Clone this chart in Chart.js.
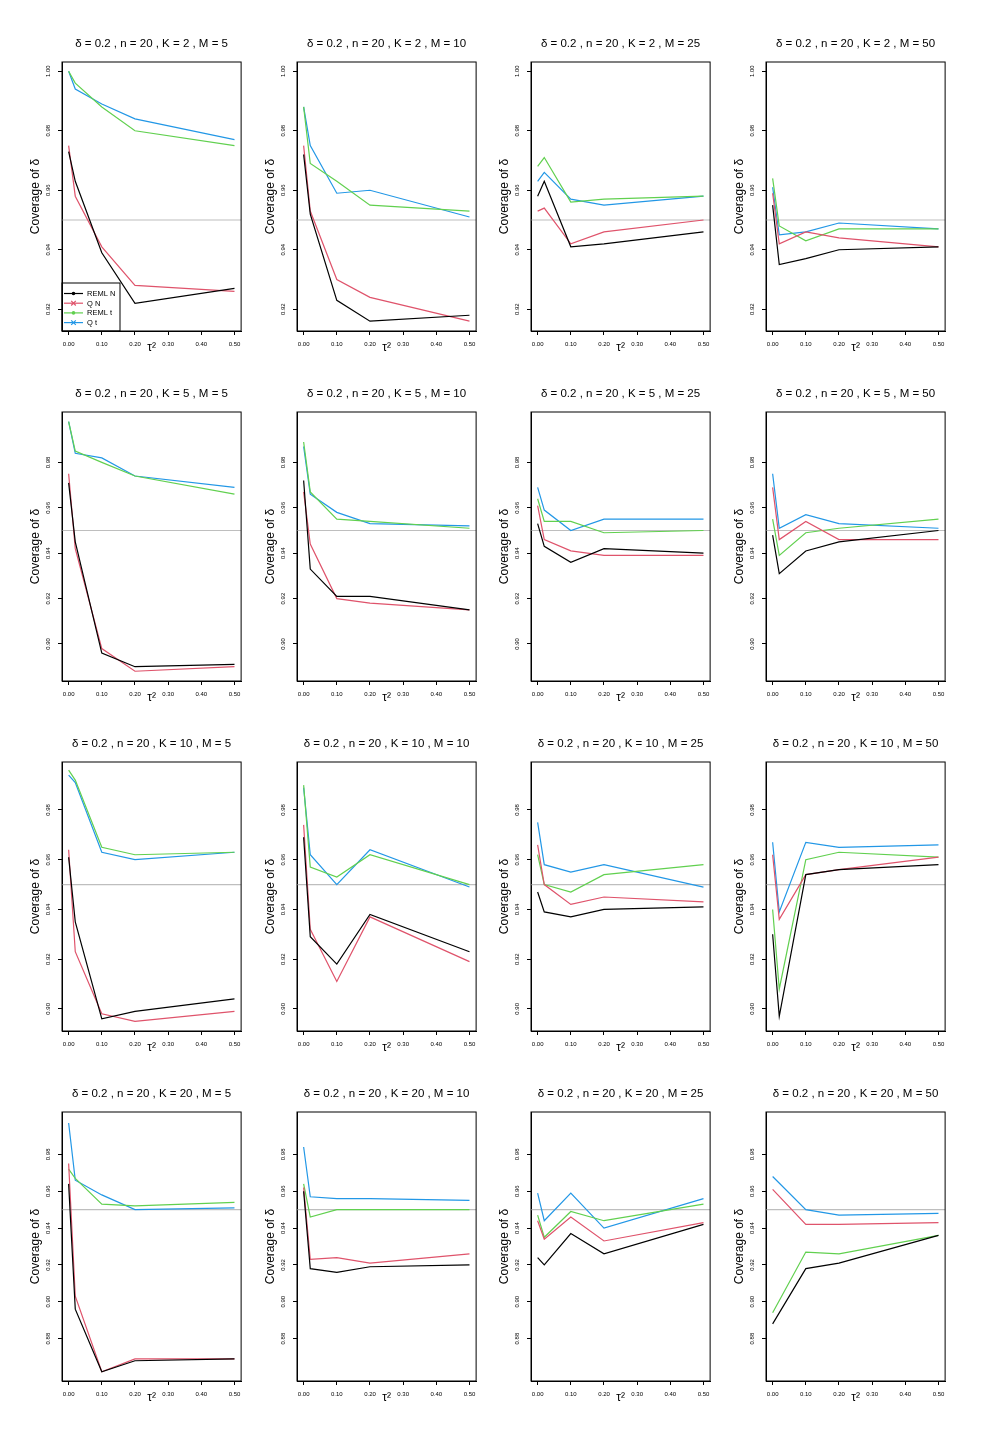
<!DOCTYPE html>
<html>
<head>
<meta charset="utf-8">
<script src="https://cdn.jsdelivr.net/npm/chart.js@4.4.0/dist/chart.umd.min.js"></script>
<style>
  body { margin: 0; background: #fff; }
  #page { position: relative; width: 990px; height: 1452px; overflow: hidden; background: #fff; }
  #page canvas { position: absolute; }
</style>
</head>
<body>
<div id="page"></div>
<script>
// simulation settings
const delta = 0.2;
const nSize = 20;
const kValues = [2, 5, 10, 20];   // one row per K
const mValues = [5, 10, 25, 50];  // one column per M
const nominal = 0.95;

// x axis: tau^2
const tau = [0, 0.02, 0.1, 0.2, 0.5];
const xTicks = [0, 0.1, 0.2, 0.3, 0.4, 0.5];

// y axis per row
const yTicks = [
  [0.92, 0.94, 0.96, 0.98, 1.00],
  [0.90, 0.92, 0.94, 0.96, 0.98],
  [0.90, 0.92, 0.94, 0.96, 0.98],
  [0.88, 0.90, 0.92, 0.94, 0.96, 0.98]
];
const yLimits = [[0.9127, 1.0031], [0.8837, 1.0022], [0.8911, 0.9993], [0.857, 1.003]];

const seriesNames = ['REML N', 'Q N', 'REML t', 'Q t'];
const seriesColors = ['#000000', '#DF536B', '#61D04F', '#2297E6'];
const seriesMarks = ['dot', 'cross', 'dot', 'cross'];

// coverage of delta, one array per panel (row = K, col = M)
const remlN = [
  [0.973, 0.963, 0.939, 0.922, 0.927], [0.972, 0.952, 0.923, 0.916, 0.918], [0.958, 0.963, 0.941, 0.942, 0.946], [0.955, 0.935, 0.937, 0.940, 0.941],
  [0.971, 0.945, 0.896, 0.890, 0.891], [0.972, 0.933, 0.921, 0.921, 0.915], [0.953, 0.943, 0.936, 0.942, 0.940], [0.948, 0.931, 0.941, 0.945, 0.950],
  [0.961, 0.935, 0.896, 0.899, 0.904], [0.969, 0.929, 0.918, 0.938, 0.923], [0.947, 0.939, 0.937, 0.940, 0.941], [0.930, 0.897, 0.954, 0.956, 0.958],
  [0.964, 0.896, 0.862, 0.868, 0.869], [0.960, 0.918, 0.916, 0.919, 0.920], [0.924, 0.920, 0.937, 0.926, 0.942], [0.888, null, 0.918, 0.921, 0.936]
];
const qN = [
  [0.975, 0.958, 0.941, 0.928, 0.926], [0.975, 0.953, 0.930, 0.924, 0.916], [0.953, 0.954, 0.942, 0.946, 0.950], [0.959, 0.942, 0.946, 0.944, 0.941],
  [0.975, 0.942, 0.898, 0.888, 0.890], [0.967, 0.944, 0.920, 0.918, 0.915], [0.961, 0.946, 0.941, 0.939, 0.939], [0.969, 0.946, 0.954, 0.946, 0.946],
  [0.964, 0.923, 0.898, 0.895, 0.899], [0.974, 0.932, 0.911, 0.937, 0.919], [0.966, 0.950, 0.942, 0.945, 0.943], [0.962, 0.936, 0.954, 0.956, 0.961],
  [0.975, 0.903, 0.862, 0.869, 0.869], [0.962, 0.923, 0.924, 0.921, 0.926], [0.944, 0.934, 0.946, 0.933, 0.943], [0.961, null, 0.942, 0.942, 0.943]
];
const remlT = [
  [1.000, 0.996, 0.988, 0.980, 0.975], [0.988, 0.969, 0.963, 0.955, 0.953], [0.968, 0.971, 0.956, 0.957, 0.958], [0.964, 0.948, 0.943, 0.947, 0.947],
  [0.998, 0.985, 0.980, 0.974, 0.966], [0.989, 0.967, 0.955, 0.954, 0.951], [0.964, 0.954, 0.954, 0.949, 0.950], [0.955, 0.939, 0.949, 0.951, 0.955],
  [0.996, 0.992, 0.965, 0.962, 0.963], [0.990, 0.957, 0.953, 0.962, 0.950], [0.962, 0.950, 0.947, 0.954, 0.958], [0.940, 0.908, 0.960, 0.963, 0.961],
  [0.972, 0.967, 0.953, 0.952, 0.954], [0.964, 0.946, 0.950, 0.950, 0.950], [0.947, 0.935, 0.949, 0.944, 0.953], [0.894, null, 0.927, 0.926, 0.936]
];
const qT = [
  [1.000, 0.994, 0.989, 0.984, 0.977], [0.988, 0.975, 0.959, 0.960, 0.951], [0.963, 0.966, 0.957, 0.955, 0.958], [0.961, 0.945, 0.946, 0.949, 0.947],
  [0.998, 0.984, 0.982, 0.974, 0.969], [0.987, 0.966, 0.958, 0.953, 0.952], [0.969, 0.959, 0.950, 0.955, 0.955], [0.975, 0.951, 0.957, 0.953, 0.951],
  [0.994, 0.991, 0.963, 0.960, 0.963], [0.989, 0.962, 0.950, 0.964, 0.949], [0.975, 0.958, 0.955, 0.958, 0.949], [0.967, 0.939, 0.967, 0.965, 0.966],
  [0.997, 0.966, 0.958, 0.950, 0.951], [0.984, 0.957, 0.956, 0.956, 0.955], [0.959, 0.944, 0.959, 0.940, 0.956], [0.968, null, 0.950, 0.947, 0.948]
];
const allSeries = [remlN, qN, remlT, qT];

const FONT = "'Liberation Sans', Arial, Helvetica, sans-serif";
const colLeft = [14, 249, 483, 718];
const rowTop = [20, 370, 720, 1070];

// grey line at nominal level + box around the plot region
const framePlugin = {
  id: 'frame',
  beforeDatasetsDraw(chart) {
    const { ctx, chartArea: a, scales: { y } } = chart;
    const py = y.getPixelForValue(nominal);
    ctx.save();
    ctx.strokeStyle = '#BEBEBE';
    ctx.lineWidth = 1.2;
    ctx.beginPath();
    ctx.moveTo(a.left, py);
    ctx.lineTo(a.right, py);
    ctx.stroke();
    ctx.restore();
  },
  afterDraw(chart) {
    const { ctx, chartArea: a } = chart;
    ctx.save();
    ctx.strokeStyle = '#000';
    ctx.lineWidth = 1;
    ctx.strokeRect(a.left, a.top, a.right - a.left, a.bottom - a.top);
    ctx.restore();
  }
};

// R-style legend box in the bottom-left corner
const legendBoxPlugin = {
  id: 'legendBox',
  afterDatasetsDraw(chart, args, opts) {
    if (!opts.show) return;
    const { ctx, chartArea: a } = chart;
    const w = 58, h = 48;
    const x0 = a.left, y0 = a.bottom - h;
    ctx.save();
    ctx.strokeStyle = '#000';
    ctx.lineWidth = 1;
    ctx.strokeRect(x0, y0, w, h);
    ctx.font = '7.5px ' + FONT;
    ctx.textBaseline = 'middle';
    ctx.textAlign = 'left';
    chart.data.datasets.forEach((ds, i) => {
      const y = y0 + 10.5 + i * 9.7;
      ctx.strokeStyle = ds.borderColor;
      ctx.fillStyle = ds.borderColor;
      ctx.lineWidth = 1.2;
      ctx.beginPath();
      ctx.moveTo(x0 + 2, y);
      ctx.lineTo(x0 + 21, y);
      ctx.stroke();
      const cx = x0 + 11.5;
      if (seriesMarks[i] === 'dot') {
        ctx.beginPath();
        ctx.arc(cx, y, 1.8, 0, Math.PI * 2);
        ctx.fill();
      } else {
        ctx.beginPath();
        ctx.moveTo(cx - 2.3, y - 2.3); ctx.lineTo(cx + 2.3, y + 2.3);
        ctx.moveTo(cx - 2.3, y + 2.3); ctx.lineTo(cx + 2.3, y - 2.3);
        ctx.stroke();
      }
      ctx.fillStyle = '#000';
      ctx.fillText(ds.label, x0 + 25, y + 0.5);
    });
    ctx.restore();
  }
};

const page = document.getElementById('page');

kValues.forEach((k, r) => {
  mValues.forEach((m, c) => {
    const p = r * 4 + c;
    const canvas = document.createElement('canvas');
    canvas.width = 232;
    canvas.height = 341;
    canvas.style.left = colLeft[c] + 'px';
    canvas.style.top = rowTop[r] + 'px';
    page.appendChild(canvas);

    const datasets = allSeries.map((s, i) => ({
      label: seriesNames[i],
      data: tau.map((x, j) => ({ x: x, y: s[p][j] })),
      borderColor: seriesColors[i],
      backgroundColor: seriesColors[i],
      borderWidth: 1.2,
      pointRadius: 0,
      tension: 0,
      spanGaps: true
    }));

    new Chart(canvas, {
      type: 'line',
      data: { datasets: datasets },
      plugins: [framePlugin, legendBoxPlugin],
      options: {
        responsive: false,
        animation: false,
        events: [],
        layout: { padding: { right: 4 } },
        plugins: {
          legend: { display: false },
          tooltip: { enabled: false },
          legendBox: { show: p === 0 },
          title: {
            display: true,
            fullSize: false,
            text: `δ = ${delta} , n = ${nSize} , K = ${k} , M = ${m}`,
            color: '#000',
            font: { family: FONT, size: 11.5, weight: 'normal' },
            padding: { top: 17.1, bottom: 11.1 }
          }
        },
        scales: {
          x: {
            type: 'linear',
            min: -0.02,
            max: 0.52,
            afterBuildTicks: s => { s.ticks = xTicks.map(v => ({ value: v })); },
            afterFit: s => { s.height = 30; },
            ticks: {
              autoSkip: false,
              maxRotation: 0,
              padding: 5.5,
              color: '#000',
              font: { family: FONT, size: 6 },
              callback: v => v.toFixed(2)
            },
            grid: { drawOnChartArea: false, drawTicks: true, tickLength: 4, color: '#000' },
            border: { display: true, color: '#000' },
            title: {
              display: true,
              text: 'τ²',
              color: '#000',
              font: { family: FONT, size: 12 },
              padding: { top: 0, bottom: 6 }
            }
          },
          y: {
            type: 'linear',
            min: yLimits[r][0],
            max: yLimits[r][1],
            afterBuildTicks: s => { s.ticks = yTicks[r].map(v => ({ value: v })); },
            afterFit: s => { s.width = 48; },
            ticks: {
              autoSkip: false,
              minRotation: 90,
              maxRotation: 90,
              crossAlign: 'center',
              padding: 4,
              color: '#000',
              font: { family: FONT, size: 6 },
              callback: v => v.toFixed(2)
            },
            grid: { drawOnChartArea: false, drawTicks: true, tickLength: 4, color: '#000' },
            border: { display: true, color: '#000' },
            title: {
              display: true,
              text: 'Coverage of δ',
              color: '#000',
              font: { family: FONT, size: 12 },
              padding: { top: 14, bottom: 0 }
            }
          }
        }
      }
    });
  });
});
</script>
</body>
</html>
